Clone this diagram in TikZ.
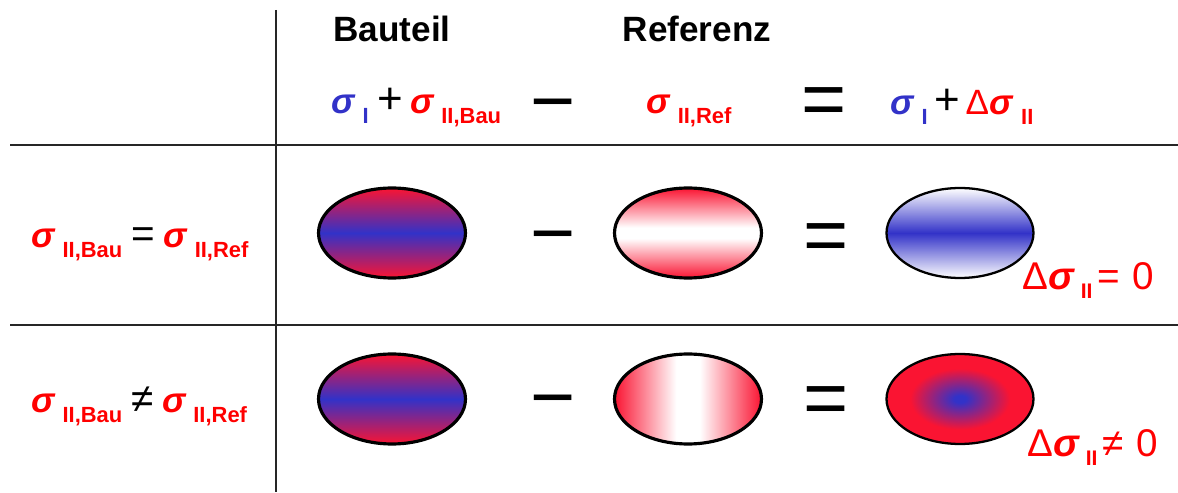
\documentclass[tikz,border=0pt]{standalone}
\usepackage{fontspec}
\setmainfont{Liberation Sans}
\usepackage{xcolor}
\usetikzlibrary{shapes.geometric}

\definecolor{sblue}{RGB}{50,50,200}
\definecolor{sred}{RGB}{255,0,0}
\definecolor{ered}{RGB}{250,20,50}

% coloured sigma with a lowered bold index
\newcommand{\sg}[2]{\textcolor{#1}{{\bfseries\itshape σ}\kern4.5pt\raisebox{-5.5pt}{\fontsize{12.5}{12}\selectfont\bfseries #2}}}
\newcommand{\pl}{{\fontsize{25}{25}\selectfont +}}

\pgfdeclareradialshading{coreblue}{\pgfpoint{0bp}{0bp}}{%
  color(0bp)=(sblue); color(2bp)=(sblue); color(17bp)=(ered); color(50bp)=(ered)}
\pgfdeclareverticalshading{redbandv}{100bp}{%
  color(0bp)=(ered); color(25bp)=(ered); color(47bp)=(white); color(53bp)=(white);
  color(75bp)=(ered); color(100bp)=(ered)}
\pgfdeclarehorizontalshading{redbandh}{100bp}{%
  color(0bp)=(ered); color(25bp)=(ered); color(46bp)=(white); color(54bp)=(white);
  color(75bp)=(ered); color(100bp)=(ered)}

\tikzset{
  head/.style={font=\fontsize{20}{24}\selectfont\bfseries, anchor=base, inner sep=0pt},
  frm/.style={font=\fontsize{20}{24}\selectfont, inner sep=0pt},
  res/.style={font=\fontsize{22}{26}\selectfont, text=sred, inner sep=0pt, anchor=base west},
  op/.style={font=\fontsize{44}{44}\selectfont, inner sep=0pt, anchor=base},
  oval/.style={ellipse, draw, line width=1.8pt, minimum width=2.94cm, minimum height=1.8cm, inner sep=0pt},
  grid/.style={line width=0.9pt, black!85}
}

\begin{document}
\begin{tikzpicture}[x=0.02cm, y=-0.02cm]
  \useasboundingbox (0,0) rectangle (1178,493);
  % table rules
  \coordinate (vt) at (276,10);
  \coordinate (vb) at (276,492);
  \coordinate (h1l) at (10,145);
  \coordinate (h1r) at (1178,145);
  \coordinate (h2l) at (10,325);
  \coordinate (h2r) at (1178,325);
  \draw[grid] (vt) -- (vb);
  \draw[grid] (h1l) -- (h1r);
  \draw[grid] (h2l) -- (h2r);

  % column heads
  \node[head] (bau) at (392,42) {Bauteil};
  \node[head] (ref) at (697,42) {Referenz};

  % first row: the formula
  \node[frm, anchor=base west] (fbau) at (331,114) {\sg{sblue}{I}\kern5pt\pl\kern4pt\sg{sred}{II,Bau}};
  \node[op] (mi0) at (553,128) {−};
  \node[frm, anchor=base] (fref) at (689,114) {\sg{sred}{II,Ref}};
  \node[op] (eq0) at (824,126) {=};
  \node[frm, anchor=base west] (fres) at (890,115) {\sg{sblue}{I}\kern4pt\pl\kern3pt\textcolor{sred}{Δ}\kern0.5pt\sg{sred}{II}};

  % row labels
  \node[frm, anchor=base west] (lab1) at (31,248) {\sg{sred}{II,Bau}\kern5pt{\fontsize{23}{23}\selectfont =}\kern5pt\sg{sred}{II,Ref}};
  \node[frm, anchor=base west] (lab2) at (31,413) {\sg{sred}{II,Bau}\kern5pt{\fontsize{23}{23}\selectfont ≠}\kern5pt\sg{sred}{II,Ref}};

  % equal stresses
  \node[oval, top color=ered, bottom color=ered, middle color=sblue] (b1) at (392,233) {};
  \node[op] (mi1) at (553,260) {−};
  \node[oval, shading=redbandv] (r1) at (688,233) {};
  \node[op] (eq1) at (826,262) {=};
  \node[oval, line width=1.3pt, top color=white, bottom color=white, middle color=sblue] (d1) at (960,233) {};
  \node[res] (z1) at (1022,290) {Δ{\bfseries\itshape σ}\kern4pt\raisebox{-5pt}{\fontsize{12}{12}\selectfont\bfseries II}\kern3pt=\kern7pt0};

  % unequal stresses
  \node[oval, top color=ered, bottom color=ered, middle color=sblue] (b2) at (392,399) {};
  \node[op] (mi2) at (553,424) {−};
  \node[oval, shading=redbandh] (r2) at (688,399) {};
  \node[op] (eq2) at (826,425) {=};
  \node[oval, line width=1.3pt, shading=coreblue] (d2) at (960,399) {};
  \node[res] (z2) at (1027,457) {Δ{\bfseries\itshape σ}\kern4pt\raisebox{-5pt}{\fontsize{12}{12}\selectfont\bfseries II}\kern3pt≠\kern7pt0};
\end{tikzpicture}
\end{document}
